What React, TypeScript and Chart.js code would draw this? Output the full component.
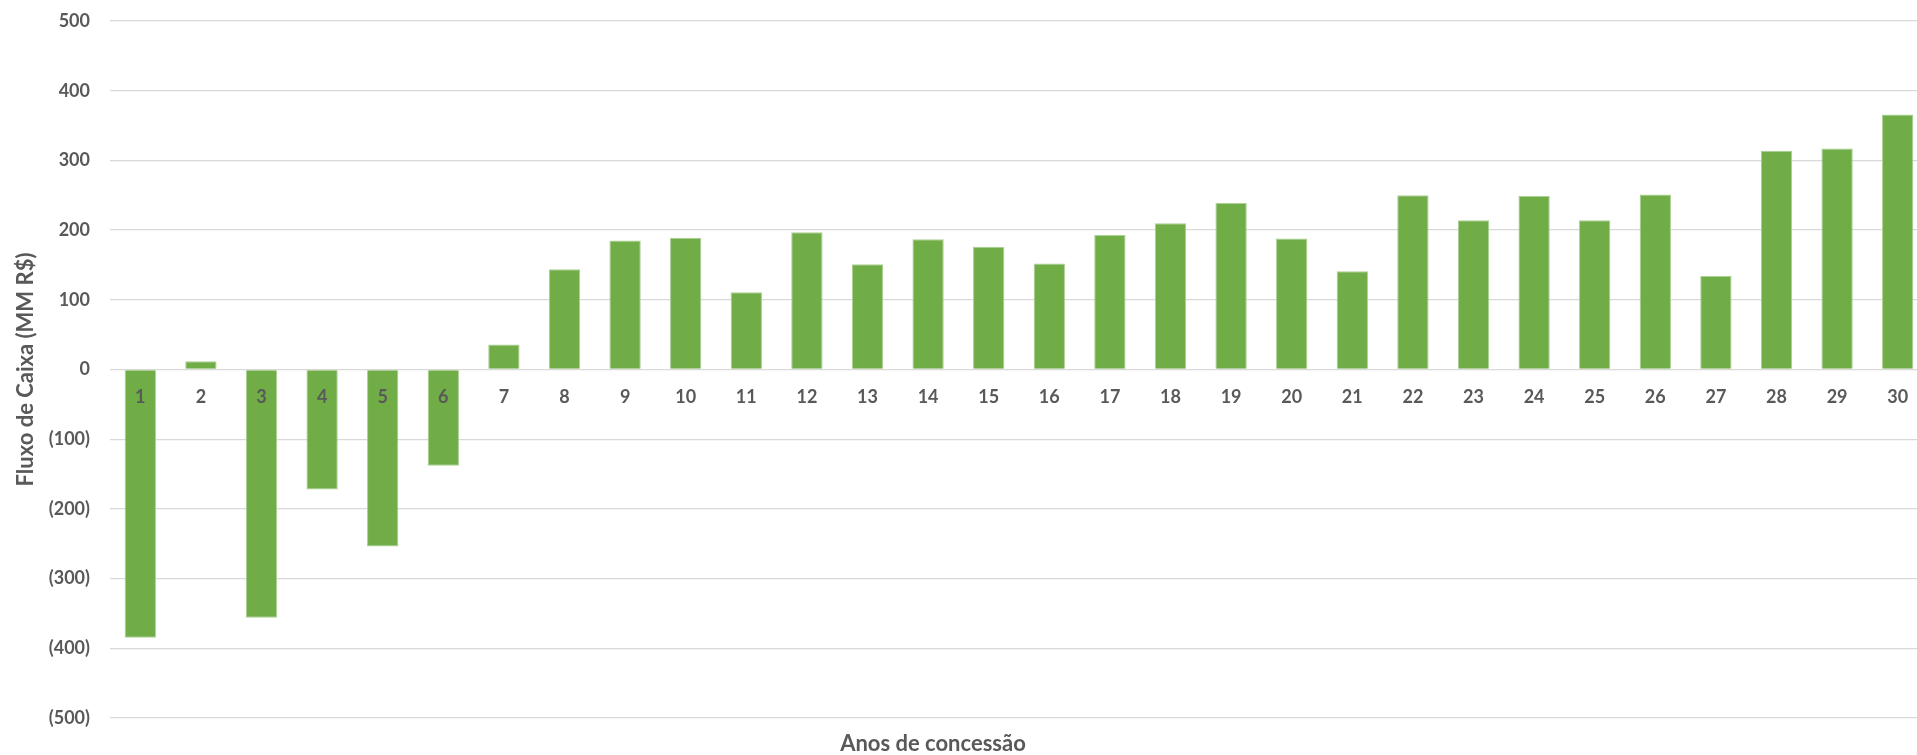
import React, { useEffect, useRef } from "react";
import { Chart, registerables } from "chart.js";

Chart.register(...registerables);

const categories: string[] = [
  "1", "2", "3", "4", "5", "6", "7", "8", "9", "10",
  "11", "12", "13", "14", "15", "16", "17", "18", "19", "20",
  "21", "22", "23", "24", "25", "26", "27", "28", "29", "30",
];

const cashFlow: number[] = [
  -385, 12, -356, -172, -254, -138, 36, 144, 185, 189,
  111, 197, 151, 187, 176, 152, 193, 210, 239, 188,
  141, 250, 214, 249, 214, 251, 134, 314, 317, 366,
];

const yMin = -500;
const yMax = 500;
const yStep = 100;

const xAxisTitle = "Anos de concessão";
const yAxisTitle = "Fluxo de Caixa (MM R$)";

const FONT = "Lato, 'Open Sans', sans-serif";
const TEXT = "#595959";
const GRID = "#D9D9D9";
const GREEN = "#70AD47";

const xTitlePlugin = {
  id: "xTitlePlugin",
  afterDraw(chart: any) {
    const ctx = chart.ctx;
    ctx.save();
    ctx.font = `bold 22px ${FONT}`;
    ctx.fillStyle = TEXT;
    ctx.textAlign = "center";
    ctx.textBaseline = "middle";
    ctx.fillText(xAxisTitle, 933, 744);
    ctx.restore();
  },
};

export default function App() {
  const ref = useRef<HTMLCanvasElement | null>(null);

  useEffect(() => {
    if (!ref.current) return;
    const chart = new Chart(ref.current, {
      type: "bar",
      data: {
        labels: categories,
        datasets: [
          {
            data: cashFlow,
            backgroundColor: GREEN,
            borderColor: "#A9CF94",
            borderWidth: 1,
            categoryPercentage: 1,
            barPercentage: 0.517,
          },
        ],
      },
      options: {
        animation: false,
        responsive: true,
        maintainAspectRatio: false,
        layout: { padding: { top: 21, bottom: 37, left: 0, right: 0 } },
        plugins: {
          legend: { display: false },
          tooltip: { enabled: false },
          title: { display: false },
        },
        scales: {
          x: {
            position: { y: 0 } as any,
            offset: true,
            grid: { display: false, drawTicks: false, z: -1 },
            border: { display: false, z: -1 },
            ticks: {
              z: 1,
              color: TEXT,
              font: { family: FONT, size: 18, weight: "bold" },
              padding: 17,
              maxRotation: 0,
              autoSkip: false,
            },
          },
          y: {
            min: yMin,
            max: yMax,
            afterFit(scale: any) {
              scale.width = 110;
            },
            grid: {
              color: GRID,
              lineWidth: 1.3,
              drawTicks: true,
              tickLength: 20,
              tickColor: "rgba(0,0,0,0)",
            },
            border: { display: false },
            ticks: {
              stepSize: yStep,
              color: TEXT,
              padding: 0,
              font: { family: FONT, size: 18, weight: "bold" },
              callback: (v: any) => {
                const n = Number(v);
                return n < 0 ? `(${Math.abs(n)})` : `${n}`;
              },
            },
            title: {
              display: true,
              text: yAxisTitle,
              color: TEXT,
              font: { family: FONT, size: 22, weight: "bold" },
              padding: { top: 13, bottom: 0 },
            },
          },
        },
      },
      plugins: [xTitlePlugin],
    });
    return () => chart.destroy();
  }, []);

  return (
    <div
      style={{
        position: "fixed",
        left: 0,
        top: 0,
        width: 1917,
        height: 755,
        overflow: "hidden",
        background: "#fff",
      }}
    >
      <div style={{ position: "relative", width: 1928, height: 755 }}>
        <canvas ref={ref} />
      </div>
    </div>
  );
}
